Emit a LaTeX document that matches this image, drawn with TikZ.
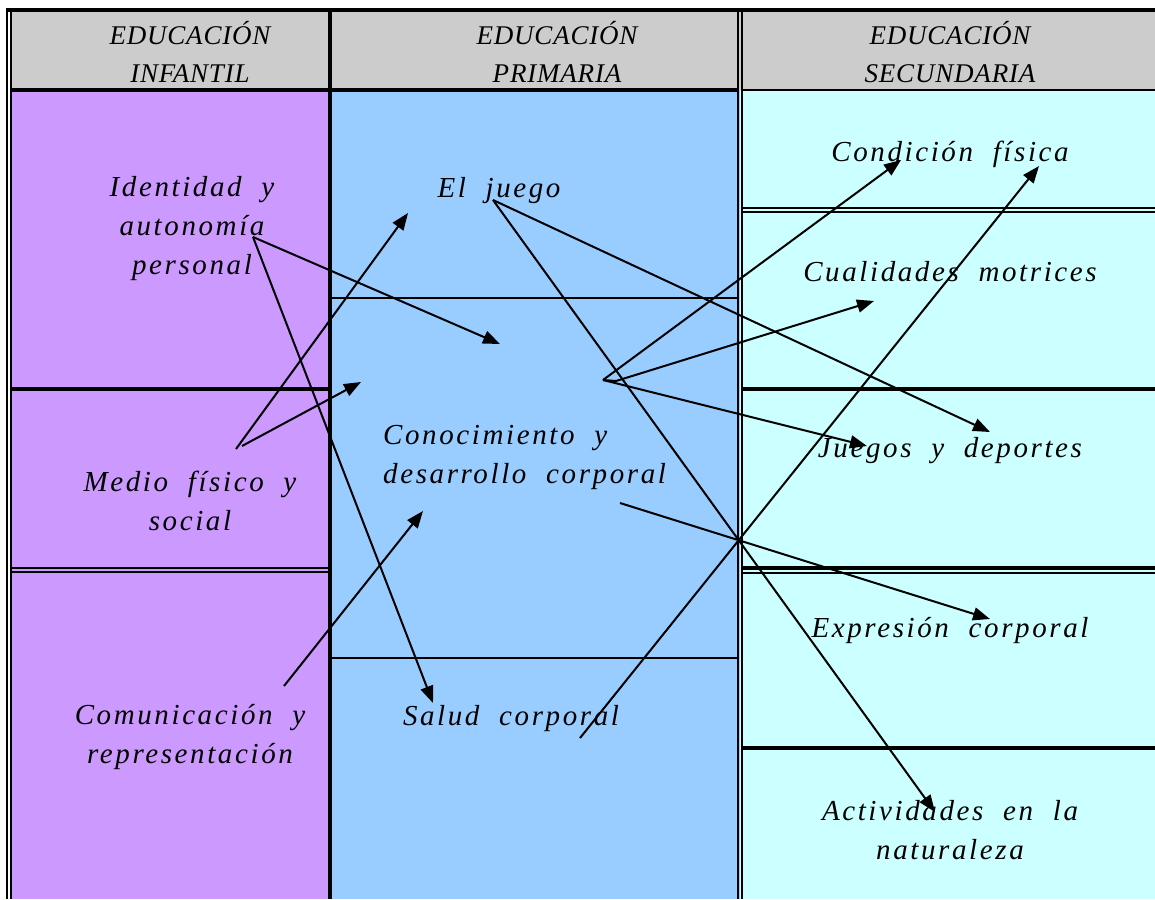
\documentclass[tikz,border=0pt]{standalone}
\usepackage{fontspec}
\usetikzlibrary{arrows.meta}
\newfontfamily\hand[LetterSpace=9,WordSpace=2]{Liberation Serif}
\newfontfamily\handhd[LetterSpace=3]{Liberation Serif}
\definecolor{hdr}{RGB}{204,204,204}
\definecolor{cinf}{RGB}{204,153,255}
\definecolor{cpri}{RGB}{153,204,255}
\definecolor{csec}{RGB}{204,255,255}
\begin{document}
\begin{tikzpicture}[x=1pt,y=-1pt,
  txt/.style={font=\hand\itshape\fontsize{29}{39}\selectfont, align=center, inner sep=0pt, text=black},
  hd/.style={font=\handhd\itshape\fontsize{27}{38}\selectfont, align=center, inner sep=0pt},
  thickline/.style={line width=3.8pt},
  thinline/.style={line width=1.4pt},
  conn/.style={line width=2pt, -{Triangle[length=17pt,width=13pt]}},
  connplain/.style={line width=2pt}]
\useasboundingbox (0,0) rectangle (1155,899);
% fills
\fill[white] (0,0) rectangle (1155,899);
\fill[hdr] (10,10) rectangle (1155,90);
\fill[cinf] (10,90) rectangle (330,899);
\fill[cpri] (330,90) rectangle (740,899);
\fill[csec] (740,90) rectangle (1155,899);
% borders
\draw[thickline] (6,10) -- (1155,10);
\draw[thinline] (7,10) -- (7,899);
\draw[thinline] (11,10) -- (11,899);
\draw[thickline] (10,90) -- (738,90);
\draw[thinline] (742,90) -- (1155,90);
\draw[thickline] (330,10) -- (330,899);
\draw[thinline] (738,10) -- (738,899);
\draw[thinline] (742,10) -- (742,899);
% column 1 rows
\draw[thickline] (10,389) -- (330,389);
\draw[thinline] (10,568) -- (330,568);
\draw[thinline] (10,572) -- (330,572);
% column 2 rows
\draw[thinline] (330,298) -- (738,298);
\draw[thinline] (330,658) -- (738,658);
% column 3 rows
\draw[thinline] (742,208) -- (1155,208);
\draw[thinline] (742,212) -- (1155,212);
\draw[thickline] (742,389) -- (1155,389);
\draw[thickline] (742,568) -- (1155,568);
\draw[thinline] (742,573) -- (1155,573);
\draw[thickline] (742,748) -- (1155,748);
% headers
\node[hd] (h1) at (190,52) {EDUCACIÓN\\INFANTIL};
\node[hd] (h2) at (557,52) {EDUCACIÓN\\PRIMARIA};
\node[hd] (h3) at (950,52) {EDUCACIÓN\\SECUNDARIA};
% infantil
\node[txt] (ident) at (192,229) {Identidad y\\autonomía\\personal};
\node[txt] (medio) at (190,501) {Medio físico y\\social};
\node[txt] (comun) at (190,737) {Comunicación y\\representación};
% primaria
\node[txt] (juego) at (499,191) {El juego};
\node[txt, align=left, anchor=west] (conoc) at (383,457) {Conocimiento y\\desarrollo corporal};
\node[txt] (salud) at (511,719) {Salud corporal};
% secundaria
\node[txt] (cond) at (950,154) {Condición física};
\node[txt] (cual) at (950,272) {Cualidades motrices};
\node[txt] (jdep) at (950,451) {Juegos y deportes};
\node[txt] (expr) at (950,631) {Expresión corporal};
\node[txt] (activ) at (950,830) {Actividades en la\\naturaleza};
% connector points
\coordinate (sIdent) at (253,237);
\coordinate (tConoc1) at (500,344);
\coordinate (tSalud) at (433,703);
\coordinate (sMedioA) at (236,449);
\coordinate (sMedioB) at (242,446);
\coordinate (tJuego) at (408,213);
\coordinate (tConoc2) at (361,382);
\coordinate (sComun) at (284,686);
\coordinate (tConoc3) at (423,511);
\coordinate (sJuego) at (493,200);
\coordinate (tJdep1) at (990,432);
\coordinate (tActiv) at (935,812);
\coordinate (sConocA) at (603,380);
\coordinate (sConocB) at (616,381);
\coordinate (tCond1) at (901,160);
\coordinate (tCual) at (874,301);
\coordinate (tJdep2) at (867,446);
\coordinate (sSalud) at (580,738);
\coordinate (tCond2) at (1039,166);
\coordinate (sConocC) at (620,503);
\coordinate (tExpr) at (990,619);
% connectors
\draw[conn] (sIdent) -- (tConoc1);
\draw[conn] (sIdent) -- (tSalud);
\draw[conn] (sMedioA) -- (tJuego);
\draw[conn] (sMedioB) -- (tConoc2);
\draw[conn] (sComun) -- (tConoc3);
\draw[conn] (sJuego) -- (tJdep1);
\draw[conn] (sJuego) -- (tActiv);
\draw[conn] (sConocA) -- (tCond1);
\draw[conn] (sConocB) -- (tCual);
\draw[conn] (sConocA) -- (tJdep2);
\draw[connplain] (sConocA) -- (sConocB);
\draw[conn] (sSalud) -- (tCond2);
\draw[conn] (sConocC) -- (tExpr);
\end{tikzpicture}
\end{document}
